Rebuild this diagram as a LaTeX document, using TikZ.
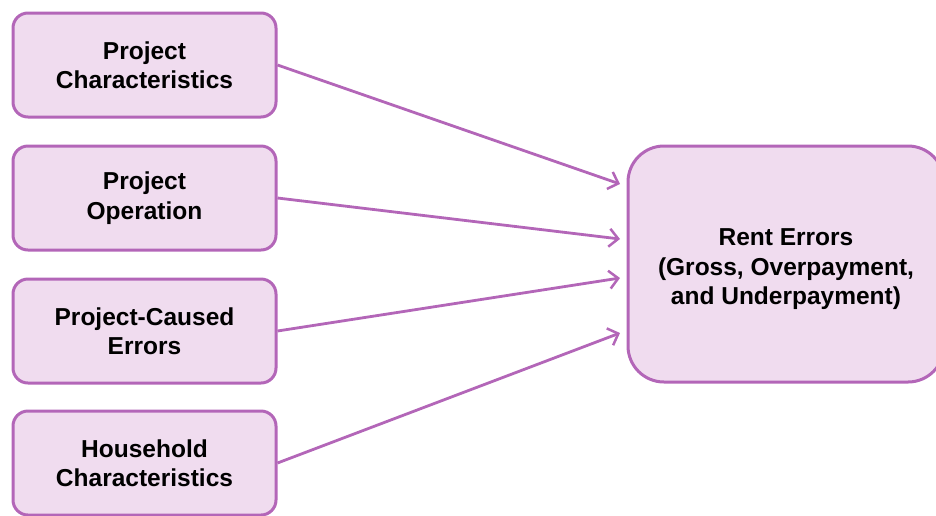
\documentclass[tikz,border=0pt]{standalone}
\usepackage{fontspec}
\setmainfont{Liberation Sans}
\usepackage{xcolor}
\definecolor{accent}{HTML}{B366B8}
\definecolor{accentsoft}{HTML}{F0DCEF}
\definecolor{ink}{HTML}{000000}
\usetikzlibrary{arrows.meta,positioning}

\begin{document}
\begin{tikzpicture}[x=1pt,y=-1pt,
  box/.style={rectangle,rounded corners=15pt,draw=accent,fill=accentsoft,line width=3pt,
    text=ink,minimum height=104pt,minimum width=263pt,align=center,
    font=\fontsize{24.5}{29.5}\selectfont\bfseries},
  bigbox/.style={box,rounded corners=36pt,minimum width=316pt,minimum height=236pt},
  arr/.style={-{Straight Barb[length=9pt,width=18pt,line width=2.5pt]},accent,line width=2.8pt}]
  \useasboundingbox (0,0) rectangle (936,515);
  \node[box] (a) at (144.5,65) {Project\\Characteristics};
  \node[box] (b) at (144.5,198) {Project\\Operation};
  \node[box] (c) at (144.5,331) {Project-Caused\\Errors};
  \node[box] (d) at (144.5,463) {Household\\Characteristics};
  \node[bigbox] (e) at (786,264) {\rule{0pt}{28pt}Rent Errors\\(Gross, Overpayment,\\and Underpayment)};
  \coordinate (ea) at (620,184);
  \coordinate (eb) at (620,239);
  \coordinate (ec) at (620,278);
  \coordinate (ed) at (620,333);
  \draw[arr] (a.east) -- (ea);
  \draw[arr] (b.east) -- (eb);
  \draw[arr] (c.east) -- (ec);
  \draw[arr] (d.east) -- (ed);
\end{tikzpicture}
\end{document}
